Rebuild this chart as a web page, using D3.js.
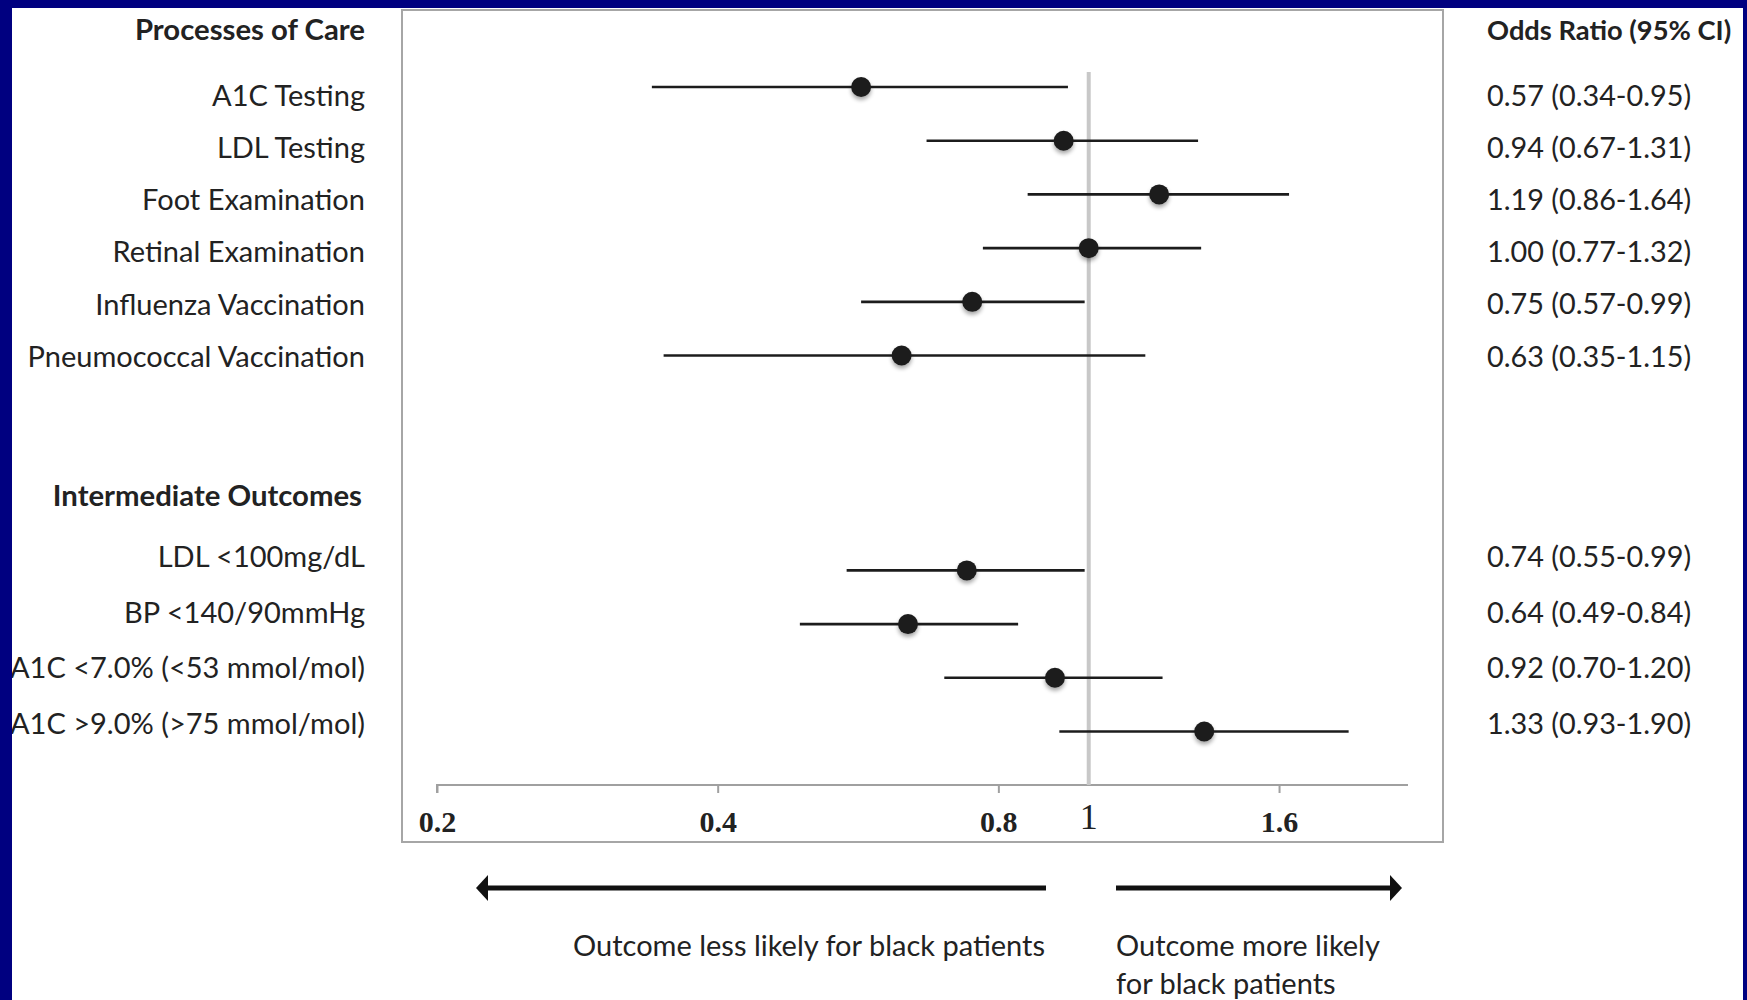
<!DOCTYPE html>
<html>
<head>
<meta charset="utf-8">
<script src="https://cdn.jsdelivr.net/npm/d3@7"></script>
<style>
  html, body { margin: 0; padding: 0; background: #ffffff; }
  svg { display: block; }
</style>
</head>
<body>
<svg id="chart" width="1747" height="1000"></svg>
<script>
// ---------------- DATA ----------------
const groupTitles = ["Processes of Care", "Intermediate Outcomes"];
const processLabels = ["A1C Testing", "LDL Testing", "Foot Examination", "Retinal Examination", "Influenza Vaccination", "Pneumococcal Vaccination"];
const processOR  = [0.57, 0.94, 1.19, 1.00, 0.75, 0.63];
const processLow = [0.34, 0.67, 0.86, 0.77, 0.57, 0.35];
const processHigh= [0.95, 1.31, 1.64, 1.32, 0.99, 1.15];
const outcomeLabels = ["LDL <100mg/dL", "BP <140/90mmHg", "A1C <7.0% (<53 mmol/mol)", "A1C >9.0% (>75 mmol/mol)"];
const outcomeOR  = [0.74, 0.64, 0.92, 1.33];
const outcomeLow = [0.55, 0.49, 0.70, 0.93];
const outcomeHigh= [0.99, 0.84, 1.20, 1.90];
const tickValues = [0.2, 0.4, 0.8, 1.6];
const referenceValue = 1;
const columnHeader = "Odds Ratio (95% CI)";
const leftArrowText = ["Outcome less likely for black patients"];
const rightArrowText = ["Outcome more likely", "for black patients"];

// ---------------- LAYOUT ----------------
const W = 1747, H = 1000;
const svg = d3.select("#chart");
const sansFont = "Lato, 'Open Sans', sans-serif";
const serifFont = "'Liberation Serif', 'DejaVu Serif', serif";
const textColor = "#222222";
const labelSize = 29;
const valueSize = 28.8;
const headerSize = 29.3;

const x = d3.scaleLog().domain([0.2, 2.2]).range([437, 1408]);
const dotY = d3.scaleLinear().domain([0, 12]).range([87, 731.5]);
const labelY1 = d3.scaleLinear().domain([0, processLabels.length - 1]).range([96, 356.5]);
const labelY2 = d3.scaleLinear().domain([0, outcomeLabels.length - 1]).range([557, 724]);

const rows = processLabels.map((label, i) => ({
  label, or: processOR[i], lo: processLow[i], hi: processHigh[i], slot: i, ly: labelY1(i)
})).concat(outcomeLabels.map((label, i) => ({
  label, or: outcomeOR[i], lo: outcomeLow[i], hi: outcomeHigh[i], slot: 9 + i, ly: labelY2(i)
})));

const fmt = d3.format(".2f");

// defs: drop shadow for dots
const defs = svg.append("defs");
const f = defs.append("filter").attr("id", "shadow").attr("x", "-50%").attr("y", "-50%").attr("width", "200%").attr("height", "220%");
f.append("feGaussianBlur").attr("in", "SourceAlpha").attr("stdDeviation", 2).attr("result", "b");
f.append("feOffset").attr("in", "b").attr("dy", 3).attr("result", "o");
f.append("feComponentTransfer").attr("in", "o").attr("result", "o2")
  .append("feFuncA").attr("type", "linear").attr("slope", 0.35);
const fm = f.append("feMerge");
fm.append("feMergeNode").attr("in", "o2");
fm.append("feMergeNode").attr("in", "SourceGraphic");

// plot frame
svg.append("rect")
  .attr("x", 402).attr("y", 10).attr("width", 1041).attr("height", 832)
  .attr("fill", "none").attr("stroke", "#a6a6a6").attr("stroke-width", 2);

// axis
const axis = d3.axisBottom(x).tickValues(tickValues).tickSize(8).tickFormat(d3.format(".1f"));
const gAxis = svg.append("g").attr("transform", "translate(0,785)").call(axis);
gAxis.select(".domain").attr("stroke", "#a0a0a0").attr("stroke-width", 2)
  .attr("d", `M${x.range()[0]},8V0H${x.range()[1]}`);
gAxis.selectAll(".tick line").attr("stroke", "#a0a0a0").attr("stroke-width", 2);
gAxis.selectAll(".tick text")
  .attr("y", 47).attr("dy", 0)
  .attr("font-family", serifFont).attr("font-weight", "bold")
  .attr("font-size", 30).attr("fill", textColor);

// reference line at 1
svg.append("line")
  .attr("x1", x(referenceValue)).attr("x2", x(referenceValue))
  .attr("y1", 72).attr("y2", 785)
  .attr("stroke", "#c8c8c8").attr("stroke-width", 4);
svg.append("text")
  .attr("x", x(referenceValue)).attr("y", 829)
  .attr("text-anchor", "middle")
  .attr("font-family", serifFont).attr("font-size", 36).attr("fill", textColor)
  .text(referenceValue);

// CI lines
svg.append("g").selectAll("line").data(rows).join("line")
  .attr("x1", d => x(d.lo)).attr("x2", d => x(d.hi))
  .attr("y1", d => dotY(d.slot)).attr("y2", d => dotY(d.slot))
  .attr("stroke", "#1c1c1c").attr("stroke-width", 2.6);

// dots
svg.append("g").selectAll("circle").data(rows).join("circle")
  .attr("cx", d => x(d.or)).attr("cy", d => dotY(d.slot)).attr("r", 10)
  .attr("fill", "#1c1c1c").attr("filter", "url(#shadow)");

// row labels
svg.append("g").selectAll("text").data(rows).join("text")
  .attr("x", 365).attr("y", d => d.ly).attr("dy", "0.35em")
  .attr("text-anchor", "end")
  .attr("font-family", sansFont).attr("font-size", labelSize).attr("fill", textColor)
  .text(d => d.label);

// value labels
svg.append("g").selectAll("text").data(rows).join("text")
  .attr("x", 1487).attr("y", d => d.ly).attr("dy", "0.35em")
  .attr("font-family", sansFont).attr("font-size", valueSize).attr("fill", textColor)
  .text(d => `${fmt(d.or)} (${fmt(d.lo)}-${fmt(d.hi)})`);

// group headers
const headerPos = [{x: 365, y: 30}, {x: 362, y: 496}];
svg.append("g").selectAll("text").data(groupTitles).join("text")
  .attr("x", (d, i) => headerPos[i].x).attr("y", (d, i) => headerPos[i].y).attr("dy", "0.35em")
  .attr("text-anchor", "end")
  .attr("font-family", sansFont).attr("font-weight", "bold").attr("font-size", headerSize).attr("fill", textColor)
  .text(d => d);
svg.append("text")
  .attr("x", 1487).attr("y", 30).attr("dy", "0.35em")
  .attr("font-family", sansFont).attr("font-weight", "bold").attr("font-size", 27.3).attr("fill", textColor)
  .text(columnHeader);

// direction arrows
function arrow(x1, x2, y) {
  const dir = Math.sign(x2 - x1);
  const headLen = 12, headHalf = 13;
  svg.append("line")
    .attr("x1", x1).attr("x2", x2 - dir * headLen * 0.6)
    .attr("y1", y).attr("y2", y)
    .attr("stroke", "#111").attr("stroke-width", 5);
  svg.append("path")
    .attr("d", `M${x2},${y} L${x2 - dir * headLen},${y - headHalf} L${x2 - dir * headLen},${y + headHalf} Z`)
    .attr("fill", "#111");
}
arrow(1046, 476, 888);
arrow(1116, 1402, 888);

svg.append("g").selectAll("text").data(leftArrowText).join("text")
  .attr("x", 1045).attr("y", (d, i) => 946 + i * 38).attr("dy", "0.35em")
  .attr("text-anchor", "end")
  .attr("font-family", sansFont).attr("font-size", labelSize).attr("fill", textColor)
  .text(d => d);
svg.append("g").selectAll("text").data(rightArrowText).join("text")
  .attr("x", 1116).attr("y", (d, i) => 946 + i * 38).attr("dy", "0.35em")
  .attr("font-family", sansFont).attr("font-size", labelSize).attr("fill", textColor)
  .text(d => d);

// navy border around slide
const navy = "#000080";
svg.append("rect").attr("x", 0).attr("y", 0).attr("width", W).attr("height", 8).attr("fill", navy);
svg.append("rect").attr("x", 0).attr("y", 0).attr("width", 12).attr("height", H).attr("fill", navy);
svg.append("rect").attr("x", 1743).attr("y", 0).attr("width", 4).attr("height", H).attr("fill", navy);
</script>
</body>
</html>
